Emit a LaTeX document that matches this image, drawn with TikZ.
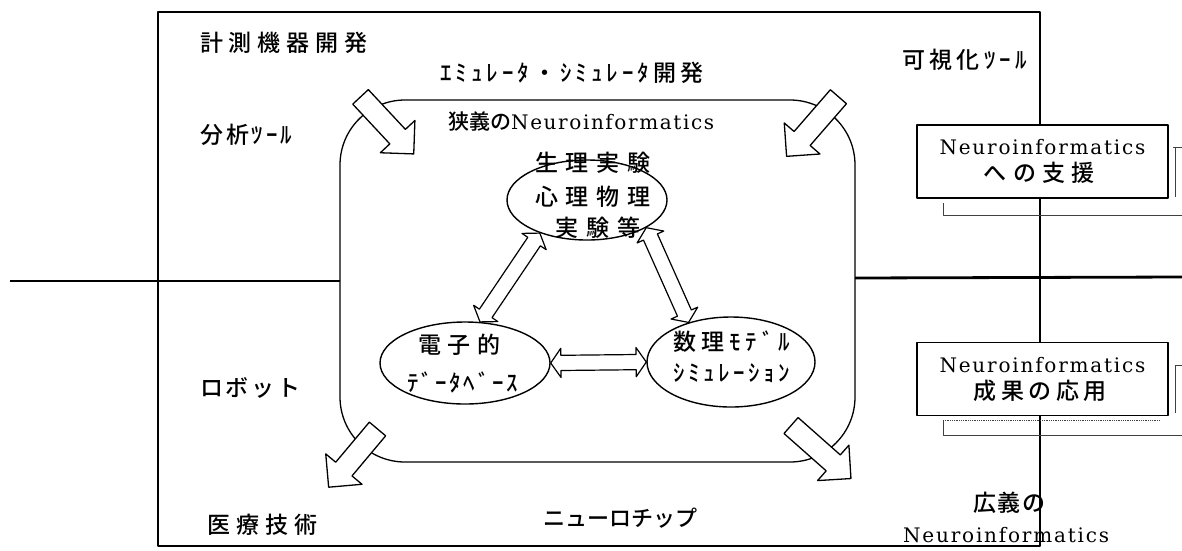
\documentclass[tikz,border=0pt]{standalone}
\usepackage{fontspec}
\setmainfont{Noto Sans CJK JP}[UprightFont=* Medium, BoldFont=* Bold]
\newfontfamily\lat{DejaVu Serif}
\usetikzlibrary{shapes.geometric,shapes.arrows,calc}
\makeatletter
\def\jsp#1#2{{\def\jsp@d{#1}\jsp@loop#2\relax}}
\def\jsp@loop#1{\ifx\relax#1\else#1\hspace{\jsp@d}\expandafter\jsp@loop\fi}
\makeatother
\newcommand\neuro[1]{{\lat\fontsize{20}{26}\selectfont\addfontfeature{LetterSpace=#1}Neuroinformatics}}
\newcommand\dbllink[3]{\path let \p1=(#1), \p2=(#2), \n1={atan2(\y2-\y1,\x2-\x1)}, \n2={veclen(\x2-\x1,\y2-\y1)} in node[dbl, minimum height=\n2, rotate=\n1] (#3) at ($(\p1)!0.5!(\p2)$) {};}
\begin{document}
\begin{tikzpicture}[x=1pt,y=-1pt,line join=round,
  t/.style={inner sep=0pt, anchor=west, font=\fontsize{23}{27}\selectfont},
  ell/.style={ellipse, draw, line width=1.4pt, fill=white, inner sep=0pt},
  blk/.style={single arrow, draw, fill=white, line width=1.3pt, inner xsep=0pt, inner ysep=10pt, single arrow head extend=13pt},
  dbl/.style={double arrow, draw, fill=white, line width=1.2pt, inner xsep=0pt, inner ysep=7pt, double arrow head extend=7pt, double arrow tip angle=110},
  nbox/.style={draw, fill=white, line width=1.8pt, minimum width=251pt, minimum height=73pt, inner sep=0pt, align=center, font=\fontsize{23}{27}\selectfont},
  brk/.style={line width=0.8pt, black!75}]
\fill[white] (0,0) rectangle (1182,550);
\useasboundingbox (0,0) rectangle (1182,550);
% dividing line
\draw[line width=2.8pt] (10,281) -- (340,281);
\draw[line width=2.8pt] (855,278) -- (1182,277);
% outer frame
\draw[line width=1.8pt] (158,12) rectangle (1040,546);
% narrow-sense region
\draw[line width=1.3pt, rounded corners=65pt] (340,100) rectangle (855,462);
% corner arrows
\node[blk, minimum height=78pt, rotate=-47] (a1) at (383.5,121.5) {};
\node[blk, minimum height=79pt, rotate=-131] (a2) at (816,122.5) {};
\node[blk, minimum height=76pt, rotate=-130] (a3) at (356.5,454) {};
\node[blk, minimum height=80pt, rotate=-41.5] (a4) at (817,448.5) {};
% ellipses
\node[ell, minimum width=160pt, minimum height=80pt] (phys) at (587,200) {};
\node[ell, minimum width=170pt, minimum height=82pt] (db) at (465,363) {};
\node[ell, minimum width=168pt, minimum height=90pt] (model) at (731,362) {};
\node[t] (p1) at (535,163) {\jsp{7.7pt}{生理実験}};
\node[t] (p2) at (535,197) {\jsp{7.7pt}{心理物理}};
\node[t] (p3) at (555,228) {\jsp{8pt}{実験等}};
\node[t] (d1) at (418,345) {\jsp{6.5pt}{電子的}};
\node[t] (d2) at (407,382) {\jsp{2.7pt}{ﾃﾞｰﾀﾍﾞｰｽ}};
\node[t] (m1) at (673,342) {\jsp{5pt}{数理ﾓﾃﾞﾙ}};
\node[t] (m2) at (673,373) {\jsp{3.6pt}{ｼﾐｭﾚｰｼｮﾝ}};
% double arrows
\dbllink{phys.215}{db.70}{l1}
\dbllink{phys.-25}{model.137}{l2}
\dbllink{db.east}{model.west}{l3}
% labels
\node[t] (k1) at (200,43) {\jsp{5.8pt}{計測機器開発}};
\node[t] (k2) at (440,73) {\jsp{4pt}{ｴﾐｭﾚｰﾀ・ｼﾐｭﾚｰﾀ開発}};
\node[t] (k3) at (902,60) {\jsp{4.3pt}{可視化ﾂｰﾙ}};
\node[t, font=\fontsize{21}{25}\selectfont] (k4) at (448,122) {狭義の\neuro{8}};
\node[t] (k5) at (200,135) {\jsp{2.9pt}{分析ﾂｰﾙ}};
\node[t] (k6) at (200,388) {\jsp{2.7pt}{ロボット}};
\node[t] (k7) at (207,525) {\jsp{6pt}{医療技術}};
\node[t, font=\fontsize{22}{26}\selectfont] (k8) at (543,518) {ニューロチップ};
\node[t] (k9) at (973,503) {\jsp{1.5pt}{広義の}};
\node[t] (k10) at (903,535) {\neuro{9}};
% right boxes
\draw[brk] (1173,147) -- (1182,147);
\draw[brk] (1175,147) -- (1175,197);
\draw[brk] (943,203) -- (943,215) -- (1182,215);
\draw[brk] (1175,365) -- (1182,365);
\draw[brk] (1175,365) -- (1175,413);
\draw[brk, densely dotted] (943,420) -- (1160,420);
\draw[brk] (943,420) -- (943,435) -- (1182,435);
\node[nbox] (b1) at (1042.5,161.5) {\neuro{9}\\\jsp{6.3pt}{への支援}\hspace{-6.3pt}};
\node[nbox] (b2) at (1042.5,379) {\neuro{9}\\\jsp{4.5pt}{成果の応用}\hspace{-4.5pt}};
\end{tikzpicture}
\end{document}
